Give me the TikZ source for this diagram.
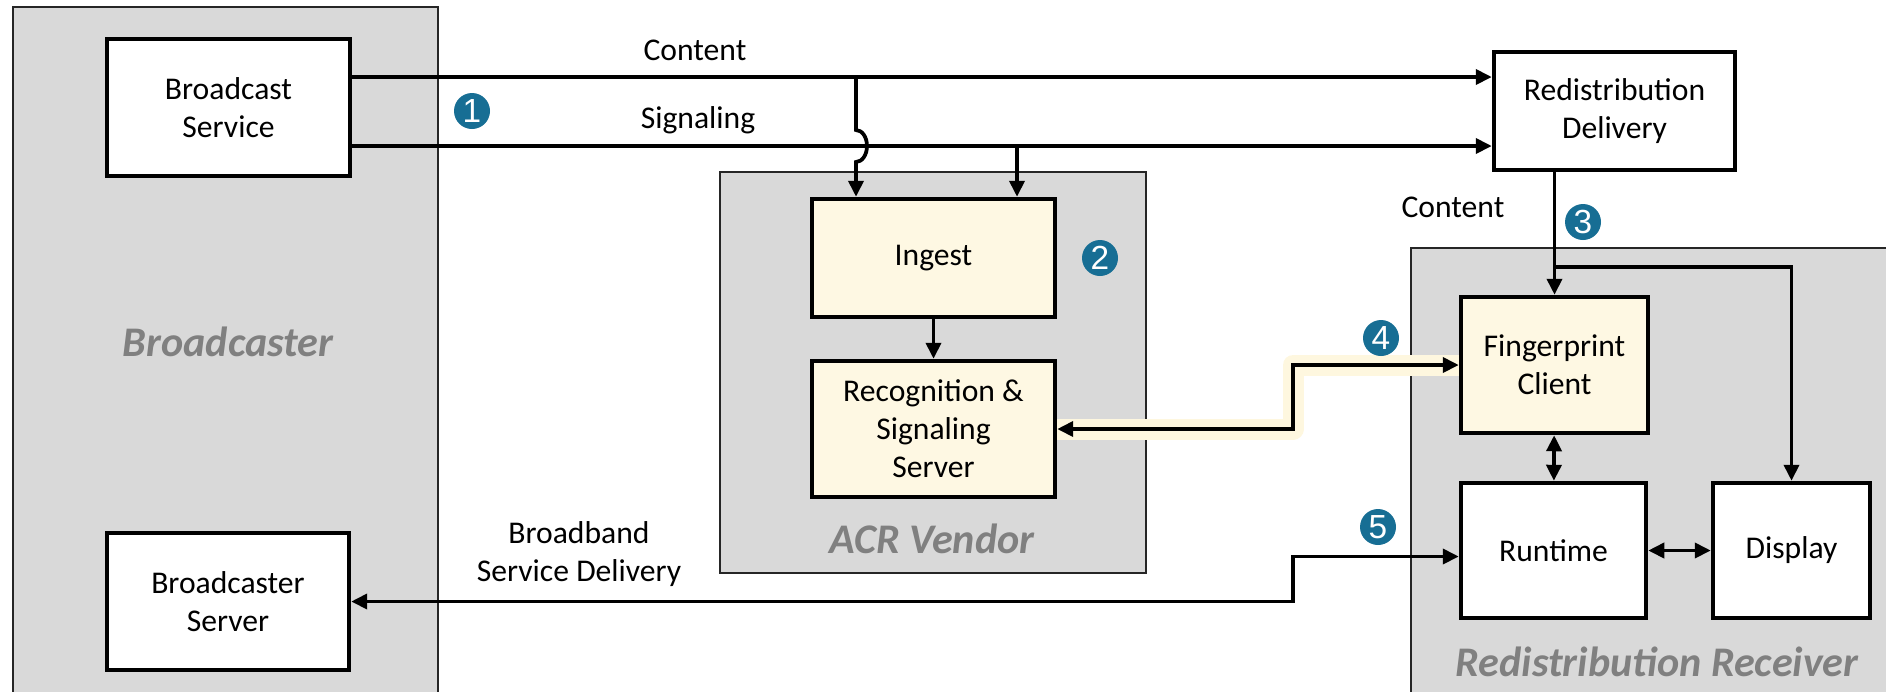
\documentclass[tikz,border=0pt]{standalone}
\usepackage{fontspec}
\setmainfont{Carlito}
\newfontfamily\badgefont{Liberation Sans}
\usetikzlibrary{arrows.meta,backgrounds}
\definecolor{panelgray}{HTML}{D9D9D9}
\definecolor{boxcream}{HTML}{FEF8E3}
\definecolor{glowcream}{HTML}{FEF7DF}
\definecolor{badgeblue}{HTML}{176E94}
\definecolor{labelgray}{HTML}{808080}
\tikzset{
	>={Triangle[length=0.32cm,width=0.3cm]},
	panel/.style={fill=panelgray, draw=black!85, line width=0.03cm},
	paneltext/.style={text=labelgray, font=\fontsize{24}{28}\selectfont\bfseries\itshape},
	box/.style={draw, line width=0.09cm, fill=white, align=center, inner sep=0pt, font=\fontsize{18}{21.6}\selectfont},
	cbox/.style={box, fill=boxcream},
	conn/.style={line width=0.075cm, ->},
	conn2/.style={line width=0.075cm, <->},
	glow/.style={draw=glowcream, line width=0.42cm, line join=round},
	lbl/.style={align=center, font=\fontsize{18}{21.6}\selectfont},
	badge/.style={circle, fill=badgeblue, text=white, inner sep=0pt, minimum size=0.72cm, font=\badgefont\fontsize{19}{19}\selectfont}
}

\begin{document}
\begin{tikzpicture}[x=0.02cm, y=-0.02cm]
			%%%%% START %%%%%
			\useasboundingbox (0,0) rectangle (1886,691);
			
			% boxes
			\node[box, minimum width=4.86cm, minimum height=2.74cm] (bsvc) at (228.5,107.5) {Broadcast\\Service};
			\node[box, minimum width=4.84cm, minimum height=2.74cm] (bsrv) at (228,601.5) {Broadcaster\\Server};
			\node[box, minimum width=4.82cm, minimum height=2.36cm] (rdel) at (1614.5,111) {Redistribution\\Delivery};
			\node[cbox, minimum width=4.86cm, minimum height=2.36cm] (ingest) at (933.5,258) {Ingest};
			\node[cbox, minimum width=4.86cm, minimum height=2.72cm] (recog) at (933.5,429) {Recognition \&\\Signaling\\Server};
			\node[cbox, minimum width=3.74cm, minimum height=2.72cm] (fprint) at (1554.5,365) {Fingerprint\\Client};
			\node[box, minimum width=3.70cm, minimum height=2.70cm] (runtime) at (1553.5,550.5) {Runtime};
			\node[box, minimum width=3.14cm, minimum height=2.70cm] (display) at (1791.5,550.5) {Display};
			
			% panels and glow
			\begin{pgfonlayer}{background}
			\draw[panel] (13,7) rectangle (438,710);
			\draw[panel] (720,172) rectangle (1146,573);
			\draw[panel] (1411,248) rectangle (1900,710);
			\coordinate (jog) at (1293,0);
			\draw[glow] (recog.east) -- (recog.east -| jog) |- (fprint.west);
			\end{pgfonlayer}
			
			\node[paneltext] (tbc) at (228,342) {Broadcaster};
			\node[paneltext] (tacr) at (932,539) {ACR Vendor};
			\node[paneltext] (trr) at (1657,662) {Redistribution Receiver};
			
			% broadcast lanes
			\coordinate (contY) at (0,77);
			\coordinate (sigY) at (0,146);
			\draw[conn] (bsvc.east |- contY) -- (rdel.west |- contY);
			\draw[conn] (bsvc.east |- sigY) -- (rdel.west |- sigY);
			\node[lbl] (tcont) at (695,50) {Content};
			\node[lbl] (tsig) at (698,120) {Signaling};
			
			\coordinate (cdrop) at (856,77);
			\coordinate (jtop) at (856,130);
			\draw[conn] (cdrop) -- (jtop) arc[start angle=90, end angle=-90, x radius=0.22cm, y radius=0.32cm] -- (cdrop |- ingest.north);
			\coordinate (sdrop) at (1017,146);
			\draw[conn] (sdrop) -- (sdrop |- ingest.north);
			\draw[conn] (ingest) -- (recog);
			
			% receiver side
			\coordinate (brY) at (0,267);
			\draw[conn] (rdel.south -| fprint) -- (fprint);
			\draw[conn] (fprint |- brY) -| (display.north);
			\node[lbl] (tcont2) at (1453,207) {Content};
			\draw[conn2] (fprint) -- (runtime);
			\draw[conn2] (runtime) -- (display);
			
			\draw[conn2] (recog.east) -- (recog.east -| jog) |- (fprint.west);
			\draw[conn2] (bsrv.east) -- (bsrv.east -| jog) |- ([yshift=-0.12cm]runtime.west);
			\node[lbl] (tbb) at (579,554) {Broadband\\Service Delivery};
			
			% badges
			\node[badge] (b1) at (472,111) {1};
			\node[badge] (b2) at (1100,258) {2};
			\node[badge] (b3) at (1583,222) {3};
			\node[badge] (b4) at (1381,338) {4};
			\node[badge] (b5) at (1378,527) {5};
			
			%%%%% END %%%%%
\end{tikzpicture}
\end{document}
